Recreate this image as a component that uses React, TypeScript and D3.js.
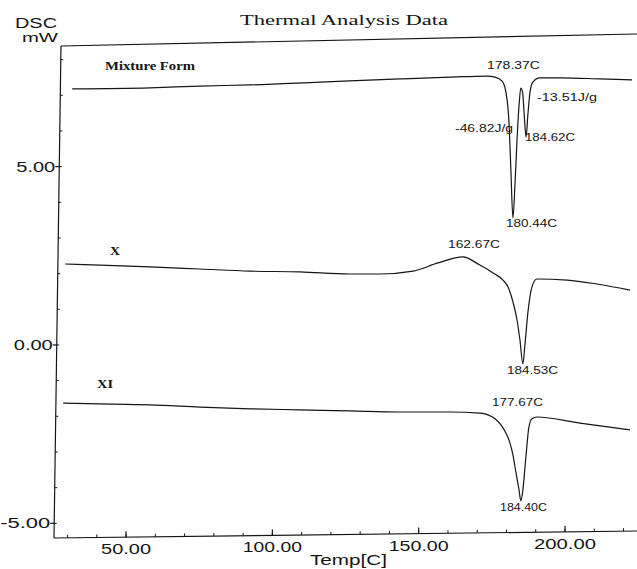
import React from "react";
import * as d3 from "d3";

// ---- data (temperature in C, heat flow in mW) ----
const mixtureT = [31.6, 58.2, 75.3, 92.4, 116.3, 143.6, 160.7, 173.3, 176.1, 178.5, 179.8, 180.9, 181.5, 182.2, 182.9, 183.6, 184.3, 184.9, 185.5, 186.0, 186.7, 187.3, 188.0, 189.0, 191.4, 198.3, 211.9, 222.9];
const mixtureV = [7.18, 7.21, 7.26, 7.29, 7.37, 7.46, 7.51, 7.54, 7.51, 7.40, 7.09, 6.17, 4.91, 3.56, 4.49, 5.75, 6.73, 7.20, 7.09, 6.53, 5.83, 6.45, 7.06, 7.37, 7.49, 7.49, 7.46, 7.43];

const formXT = [29.2, 41.1, 58.2, 75.3, 92.4, 109.4, 126.5, 136.8, 148.1, 156.6, 165.1, 170.9, 175.4, 178.8, 180.5, 182.2, 183.6, 184.6, 185.6, 186.3, 187.3, 188.7, 190.4, 200.7, 210.9, 222.2];
const formXV = [2.27, 2.24, 2.19, 2.13, 2.07, 2.05, 1.99, 1.99, 2.07, 2.30, 2.47, 2.24, 2.02, 1.82, 1.63, 1.21, 0.70, 0.14, -0.53, 0.0, 0.90, 1.63, 1.85, 1.82, 1.71, 1.54];

const formXIT = [28.5, 41.1, 58.2, 75.3, 92.4, 109.4, 126.5, 143.6, 160.7, 170.9, 173.7, 176.1, 178.1, 179.8, 181.2, 182.2, 183.2, 184.3, 184.9, 185.6, 186.3, 187.0, 187.6, 188.7, 190.4, 205.1, 222.2];
const formXIV = [-1.63, -1.65, -1.68, -1.74, -1.79, -1.82, -1.85, -1.88, -1.88, -1.91, -1.96, -2.07, -2.24, -2.47, -2.75, -3.08, -3.56, -4.07, -4.37, -4.07, -3.45, -2.80, -2.33, -2.07, -2.02, -2.19, -2.38];

const xMajorTicks = [50, 100, 150, 200];
const xMajorLabels = ["50.00", "100.00", "150.00", "200.00"];
const xMinorTicks = d3.range(30, 221, 10);
const yMajorTicks = [5, 0, -5];
const yMajorLabels = ["5.00", "0.00", "-5.00"];
const yMinorTicks = d3.range(-5, 9, 1);

const curveNames = ["Mixture Form", "X", "XI"];
const annotationTexts = [
  "178.37C",
  "-13.51J/g",
  "-46.82J/g",
  "184.62C",
  "180.44C",
  "162.67C",
  "184.53C",
  "177.67C",
  "184.40C",
];
// layout for annotations: [x start, baseline, width]
const annoLayout: [number, number, number][] = [
  [487, 69, 53],
  [537, 101, 60],
  [455, 132, 58],
  [525, 141, 50],
  [506, 227, 51],
  [448, 248, 52],
  [507, 374, 51],
  [492, 406, 51],
  [500, 511, 47],
];

const W = 637;
const H = 569;

// slightly skewed frame of the scanned chart
const axisX = (yy: number) => 61 - (7 * (yy - 45)) / 493; // left axis x at given y
const axisY = (xx: number) => 538 - (7 * (xx - 54)) / 583; // bottom axis y at given x

export default function App() {
  const x = d3.scaleLinear().domain([26.4, 224.6]).range([57, 637]);
  const y = d3.scaleLinear().domain([-5.3, 8.5]).range([534, 41.8]);

  const line = d3
    .line<[number, number]>()
    .x((d) => x(d[0]))
    .y((d) => y(d[1]))
    .curve(d3.curveMonotoneX);

  const series = [
    d3.zip(mixtureT, mixtureV) as [number, number][],
    d3.zip(formXT, formXV) as [number, number][],
    d3.zip(formXIT, formXIV) as [number, number][],
  ];

  const sans = "'Liberation Sans', Arial, sans-serif";
  const serif = "'Liberation Serif', 'Times New Roman', serif";
  const ink = "#151515";
  const yLabelW = [39, 39, 50];
  const xLabelW = [50, 59, 60, 62];

  return (
    <svg
      width={W}
      height={H}
      style={{ position: "absolute", left: 0, top: 0, background: "#fff" }}
    >
      <rect x={0} y={0} width={W} height={H} fill="#fff" />
      {/* title & y unit */}
      <text x={240} y={25} fontFamily={serif} fontSize={15} fill={ink} textLength={208} lengthAdjust="spacingAndGlyphs">
        Thermal Analysis Data
      </text>
      <text x={15} y={28} fontFamily={sans} fontSize={14} fill={ink} textLength={42} lengthAdjust="spacingAndGlyphs">
        DSC
      </text>
      <text x={22} y={42} fontFamily={sans} fontSize={13.5} fill={ink} textLength={36} lengthAdjust="spacingAndGlyphs">
        mW
      </text>

      {/* frame: top border and axes */}
      <line x1={61} y1={46} x2={W} y2={34} stroke={ink} strokeWidth={1.2} />
      <line x1={axisX(46)} y1={46} x2={axisX(538)} y2={538} stroke={ink} strokeWidth={1.2} />
      <line x1={54} y1={axisY(54)} x2={W} y2={axisY(W)} stroke={ink} strokeWidth={1.2} />

      {/* y ticks */}
      {yMinorTicks.map((v) => {
        const ax = axisX(y(v));
        return <line key={"ym" + v} x1={ax} x2={ax + 2.5} y1={y(v)} y2={y(v)} stroke={ink} strokeWidth={1} />;
      })}
      {yMajorTicks.map((v, i) => {
        const ax = axisX(y(v));
        return (
          <g key={"yM" + v}>
            <line x1={ax - 4} x2={ax} y1={y(v)} y2={y(v)} stroke={ink} strokeWidth={1.2} />
            <text
              x={ax - 4 - yLabelW[i]}
              y={y(v) + 5}
              fontFamily={sans}
              fontSize={14}
              fill={ink}
              textLength={yLabelW[i]}
              lengthAdjust="spacingAndGlyphs"
            >
              {yMajorLabels[i]}
            </text>
          </g>
        );
      })}

      {/* x ticks */}
      {xMinorTicks.map((t) => {
        const ay = axisY(x(t));
        return <line key={"xm" + t} x1={x(t)} x2={x(t)} y1={ay} y2={ay - 3} stroke={ink} strokeWidth={1} />;
      })}
      {xMajorTicks.map((t, i) => {
        const w = xLabelW[i];
        const ay = axisY(x(t));
        return (
          <g key={"xM" + t}>
            <line x1={x(t)} x2={x(t)} y1={ay} y2={ay - 6} stroke={ink} strokeWidth={1.2} />
            <text
              x={x(t) - w / 2}
              y={ay + 17}
              fontFamily={sans}
              fontSize={14}
              fill={ink}
              textLength={w}
              lengthAdjust="spacingAndGlyphs"
            >
              {xMajorLabels[i]}
            </text>
          </g>
        );
      })}
      <text x={310} y={565} fontFamily={sans} fontSize={14} fill={ink} textLength={77} lengthAdjust="spacingAndGlyphs">
        Temp[C]
      </text>

      {/* curves */}
      {series.map((s, i) => (
        <path key={"s" + i} d={line(s) || ""} fill="none" stroke={ink} strokeWidth={1.2} />
      ))}

      {/* curve names */}
      <text x={105} y={70} fontFamily={serif} fontWeight="bold" fontSize={12.5} fill={ink} textLength={90} lengthAdjust="spacingAndGlyphs">
        {curveNames[0]}
      </text>
      <text x={110} y={255} fontFamily={serif} fontWeight="bold" fontSize={13} fill={ink} textLength={10} lengthAdjust="spacingAndGlyphs">
        {curveNames[1]}
      </text>
      <text x={97} y={388} fontFamily={serif} fontWeight="bold" fontSize={13} fill={ink} textLength={16} lengthAdjust="spacingAndGlyphs">
        {curveNames[2]}
      </text>

      {/* peak annotations */}
      {annotationTexts.map((txt, i) => (
        <text
          key={"a" + i}
          x={annoLayout[i][0]}
          y={annoLayout[i][1]}
          fontFamily={sans}
          fontSize={10.5}
          fill={ink}
          textLength={annoLayout[i][2]}
          lengthAdjust="spacingAndGlyphs"
        >
          {txt}
        </text>
      ))}
    </svg>
  );
}
